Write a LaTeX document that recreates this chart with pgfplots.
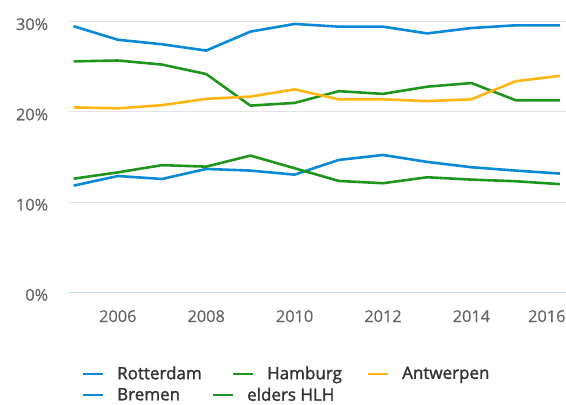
\documentclass[border=0pt]{standalone}
\usepackage{fontspec}
\setmainfont{Open Sans}
\newfontfamily\legfont{Open Sans}[FakeBold=1.6]
\newfontfamily\tickfont{Open Sans}[FakeBold=0.5]
\usepackage{pgfplots}
\usepackage{pgfplotstable}
\pgfplotsset{compat=1.18}
\definecolor{cblue}{HTML}{0A8AD6}
\definecolor{cgreen}{HTML}{1E961E}
\definecolor{corange}{HTML}{FFB612}
\definecolor{gridgray}{HTML}{E4E4E4}
\definecolor{zeroline}{HTML}{C4DAEE}
\definecolor{ticktext}{HTML}{666666}
\definecolor{legtext}{HTML}{333333}

\pgfplotstableread{
year rotterdam hamburg antwerpen bremen elders
2005 29.5  25.6  20.5  11.83 12.6
2006 28.0  25.7  20.4  12.9  13.3
2007 27.5  25.25 20.75 12.57 14.1
2008 26.8  24.2  21.45 13.68 13.94
2009 28.9  20.7  21.7  13.5  15.16
2010 29.75 21.0  22.5  13.05 13.76
2011 29.45 22.3  21.4  14.68 12.35
2012 29.45 22.0  21.4  15.23 12.1
2013 28.7  22.8  21.2  14.46 12.76
2014 29.3  23.2  21.4  13.87 12.5
2015 29.6  21.3  23.4  13.5  12.32
2016 29.6  21.3  24.0  13.17 12.0
}\data

\pgfplotsset{
  base/.style={
    scale only axis, width=497.7pt, height=270.7pt,
    xmin=2004.88, xmax=2016.14, ymin=0, ymax=30,
    at={(0pt,0pt)}, anchor=south west,
    clip=false,
    axis line style={draw=none},
    major tick length=0pt,
    legend image code/.code={\draw[line width=2pt] (0pt,0pt) -- (20pt,0pt);},
    legend columns=-1,
    legend style={draw=none, fill=none, anchor=west, inner sep=0pt,
      font=\legfont\fontsize{17}{19}\selectfont, text=legtext,
      nodes={inner sep=0pt},
      /tikz/every odd column/.append style={column sep=13pt}},
    every axis plot/.append style={line width=2.6pt, line join=round},
  }
}

\begin{document}
\begin{tikzpicture}
\useasboundingbox (-68.3pt,-112.6pt) rectangle (497.7pt,292.4pt);
\begin{axis}[base,
  ytick={10,20,30}, yticklabels={10\%,20\%,30\%},
  extra y ticks={0}, extra y tick labels={0\%},
  extra y tick style={grid style={zeroline, line width=1.2pt}},
  ymajorgrids, grid style={gridgray, line width=1pt},
  xtick={2006,2008,2010,2012,2014,2016},
  xticklabels={2006,2008,2010,2012,2014,{\kern-26pt 2016}},
  tick label style={font=\tickfont\fontsize{16.3}{19}\selectfont, text=ticktext},
  yticklabel style={anchor=east, inner sep=0pt, xshift=-20pt, yshift=-2.5pt},
  xticklabel style={anchor=north, inner sep=0pt, yshift=-17.6pt},
  legend style={at={(0.0275,-0.2996)}},
]
\addplot[cblue] table[x=year, y=rotterdam] {\data};
\addlegendentry{\makebox[115pt][l]{Rotterdam}}
\addplot[cgreen] table[x=year, y=hamburg] {\data};
\addlegendentry{\makebox[100pt][l]{Hamburg}}
\addplot[corange] table[x=year, y=antwerpen] {\data};
\addlegendentry{Antwerpen}
\end{axis}
\begin{axis}[base, hide axis,
  legend style={at={(0.0275,-0.379)}},
]
\addplot[cblue] table[x=year, y=bremen] {\data};
\addlegendentry{\makebox[95pt][l]{Bremen}}
\addplot[cgreen] table[x=year, y=elders] {\data};
\addlegendentry{elders HLH}
\end{axis}
\end{tikzpicture}
\end{document}
